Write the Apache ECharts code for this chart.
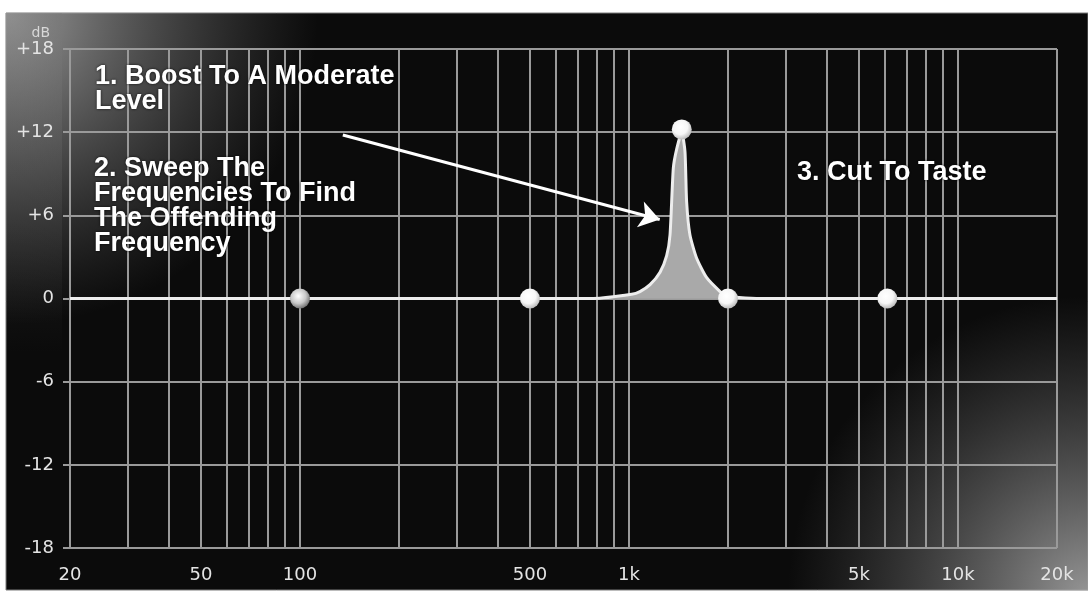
<!DOCTYPE html>
<html><head><meta charset="utf-8">
<script src="https://cdn.jsdelivr.net/npm/echarts@6.0.0/dist/echarts.min.js"></script>
<style>html,body{margin:0;padding:0;background:#fff;}#c{width:1088px;height:596px;}</style>
</head><body><div id="c"></div>
<script>
// ---- data ----
const gridHz = [20,30,40,50,60,70,80,90,100,200,300,400,500,600,700,800,900,1000,2000,3000,4000,5000,6000,7000,8000,9000,10000,20000];
const xTickHz = [20,50,100,500,1000,5000,10000,20000];
const xTickLabels = ['20','50','100','500','1k','5k','10k','20k'];
const yTicks = [-18,-12,-6,0,6,12,18];
const yTickLabels = ['-18','-12','-6','0','+6','+12','+18'];
const curveHz = [20,780,1019,1080,1159,1243,1302,1333,1364,1397,1447,1480,1497,1532,1606,1723,1892,1982,2580,20000];
const curveDb = [0,0,0.3,0.5,1.0,1.9,3.1,4.6,9.4,10.8,12.0,10.6,7.0,4.6,2.9,1.5,0.5,0.15,0,0];
const nodeHz = [100,500,1447,2000,6100];
const nodeDb = [0,0,12.2,0,0];
const arrowHz = [135,1240];
const arrowDb = [11.8,5.7];
const notes = ['1. Boost To A Moderate\nLevel','2. Sweep The\nFrequencies To Find\nThe Offending\nFrequency','3. Cut To Taste'];

// ---- chart ----
const lg = v => Math.log10(v);
const chart = echarts.init(document.getElementById('c'), null, {renderer:'canvas'});
const gridColor = '#9a9a9a';
const labelFont = {color:'#e4e4e4', fontFamily:'DejaVu Sans', fontSize:18};
const noteStyle = {fill:'#ffffff', font:'bold 27px "Liberation Sans", Arial, sans-serif', lineHeight:25,
  textShadowColor:'rgba(0,0,0,0.8)', textShadowBlur:3};
const panel = {x:6, y:13, width:1082, height:577};
function glow(cx, cy, r, c0){
  return {type:'rect', z:-10, silent:true, shape:panel,
    style:{fill:{type:'radial', x:cx, y:cy, r:r, global:true,
      colorStops:[{offset:0,color:c0},{offset:1,color:'rgba(110,110,110,0)'}]}}};
}
function nodeColor(i){
  const dark = i === 0;
  return {type:'radial', x:0.42, y:0.38, r:0.62, colorStops:[
    {offset:0,color:'#ffffff'},
    {offset:0.6,color: dark ? '#c8c8c8' : '#f6f6f6'},
    {offset:1,color: dark ? '#747474' : '#bcbcbc'}]};
}
chart.setOption({
  animation:false,
  backgroundColor:'transparent',
  graphic:[
    {type:'rect', z:-20, silent:true, shape:panel, style:{fill:'#0b0b0b', stroke:'#7a7a7a', lineWidth:1}},
    glow(8, 15, 310, 'rgba(170,170,170,0.9)'),
    {type:'rect', z:-9, silent:true, shape:{x:6,y:13,width:56,height:340},
      style:{fill:{type:'linear', x:0, y:0, x2:0, y2:1, colorStops:[{offset:0,color:'rgba(120,120,120,0.35)'},{offset:1,color:'rgba(120,120,120,0)'}]}}},
    glow(1088, 596, 300, 'rgba(165,165,165,0.9)'),
    {type:'text', z:5, style:Object.assign({x:95, y:64, text:notes[0], verticalAlign:'top'}, noteStyle)},
    {type:'text', z:5, style:Object.assign({x:94, y:156, text:notes[1], verticalAlign:'top', lineHeight:26}, noteStyle)},
    {type:'text', z:5, style:Object.assign({x:797, y:160, text:notes[2], verticalAlign:'top'}, noteStyle)}
  ],
  grid:{left:70, right:31, top:49, bottom:48, containLabel:false},
  xAxis:{
    type:'value', min:lg(20), max:lg(20000),
    axisLine:{show:false},
    axisTick:{show:true, length:8, customValues:gridHz.map(lg), lineStyle:{color:gridColor, width:2}},
    splitLine:{show:true, lineStyle:{color:gridColor, width:2}},
    axisLabel:Object.assign({margin:18, customValues:xTickHz.map(lg),
      formatter:v => { const f = Math.round(Math.pow(10, v)); const i = xTickHz.indexOf(f); return i >= 0 ? xTickLabels[i] : ''; }}, labelFont)
  },
  yAxis:{
    type:'value', min:-18, max:18, interval:6,
    name:'dB', nameLocation:'end', nameGap:6,
    nameTextStyle:{color:'#d8d8d8', fontFamily:'DejaVu Sans', fontSize:14, align:'right', padding:[0,20,0,0]},
    axisLine:{show:false},
    axisTick:{show:true, length:7, lineStyle:{color:gridColor, width:2}},
    splitLine:{show:true, lineStyle:{color:gridColor, width:2}},
    axisLabel:Object.assign({margin:16, formatter:v => yTickLabels[yTicks.indexOf(v)]}, labelFont)
  },
  series:[
    {type:'line', name:'EQ', z:3, symbol:'none', smooth:0.2,
      data:curveHz.map((f,i)=>[lg(f), curveDb[i]]),
      lineStyle:{color:'#ededed', width:3},
      areaStyle:{color:'#a9a9a9', opacity:1},
      markLine:{silent:true, symbol:['none','arrow'], symbolSize:20, label:{show:false},
        itemStyle:{color:'#ffffff'},
        lineStyle:{color:'#ffffff', width:3, type:'solid'},
        data:[[{coord:[lg(arrowHz[0]), arrowDb[0]]},{coord:[lg(arrowHz[1]), arrowDb[1]]}]]}
    },
    {type:'scatter', name:'nodes', z:4, symbol:'circle', symbolSize:20,
      data:nodeHz.map((f,i)=>({value:[lg(f), nodeDb[i]], itemStyle:{color:nodeColor(i), opacity:1}}))
    }
  ]
});
</script></body></html>
